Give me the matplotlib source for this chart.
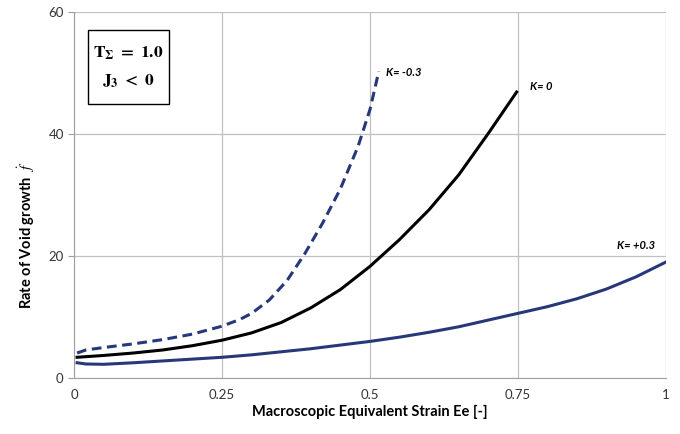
import matplotlib
matplotlib.use('Agg')
import matplotlib.pyplot as plt
from matplotlib.patches import Rectangle

# K = -0.3 (dashed)
x_neg = [0.005, 0.02, 0.05, 0.1, 0.15, 0.2, 0.25, 0.28, 0.3, 0.33, 0.36, 0.39, 0.42, 0.45, 0.48, 0.5, 0.515]
y_neg = [4.1, 4.6, 5.0, 5.6, 6.3, 7.2, 8.5, 9.6, 10.6, 12.8, 16.0, 20.4, 25.4, 31.0, 38.0, 44.0, 50.3]

# K = 0
x_zero = [0.005, 0.05, 0.1, 0.15, 0.2, 0.25, 0.3, 0.35, 0.4, 0.45, 0.5, 0.55, 0.6, 0.65, 0.7, 0.748]
y_zero = [3.4, 3.7, 4.1, 4.6, 5.3, 6.2, 7.4, 9.1, 11.5, 14.5, 18.3, 22.7, 27.6, 33.3, 40.1, 46.9]

# K = +0.3
x_pos = [0.005, 0.02, 0.05, 0.1, 0.15, 0.2, 0.25, 0.3, 0.35, 0.4, 0.45, 0.5, 0.55, 0.6, 0.65,
         0.7, 0.75, 0.8, 0.85, 0.9, 0.95, 1.0]
y_pos = [2.5, 2.3, 2.25, 2.5, 2.8, 3.1, 3.4, 3.8, 4.3, 4.8, 5.4, 6.0, 6.7, 7.5, 8.4,
         9.5, 10.6, 11.7, 13.0, 14.6, 16.6, 19.0]

x_ticks = [0, 0.25, 0.5, 0.75, 1]
x_ticklabels = ['0', '0.25', '0.5', '0.75', '1']
y_ticks = [0, 20, 40, 60]

navy = '#27387a'

plt.rcParams['font.family'] = ['Lato', 'DejaVu Sans']
plt.rcParams['mathtext.fontset'] = 'stix'

fig = plt.figure(figsize=(6.8, 4.34), dpi=100)
ax = fig.add_axes([0.109, 0.129, 0.870, 0.843])

ax.plot(x_neg, y_neg, color=navy, linewidth=2.2, dashes=(3.2, 1.8))
ax.plot(x_zero, y_zero, color='black', linewidth=2.2)
ax.plot(x_pos, y_pos, color=navy, linewidth=2.2)

ax.set_xlim(0, 1)
ax.set_ylim(0, 60)
ax.set_xticks(x_ticks)
ax.set_xticklabels(x_ticklabels)
ax.set_yticks(y_ticks)
ax.grid(True, color='#c0c0c0', linewidth=0.9)
ax.set_axisbelow(True)
for side in ['top', 'right']:
    ax.spines[side].set_visible(False)
for side in ['left', 'bottom']:
    ax.spines[side].set_color('#a0a0a0')
ax.tick_params(axis='y', length=4, color='#a0a0a0', labelsize=9.5, labelcolor='#333333')
ax.tick_params(axis='x', length=0, pad=8, labelsize=9.5, labelcolor='#333333')

ax.set_xlabel('Macroscopic Equivalent Strain Ee [-]', fontsize=10.5, fontweight='bold', labelpad=3)
ax.set_ylabel(r'Rate of Void growth  $\dot{f}$', fontsize=10.5, fontweight='bold', labelpad=8)
ax.yaxis.set_label_coords(-0.063, 0.39)

# curve labels
ax.text(0.527, 49.5, 'K= -0.3', fontsize=8, fontweight='bold', style='italic')
ax.text(0.77, 47.2, 'K= 0', fontsize=8, fontweight='bold', style='italic')
ax.text(0.918, 21.2, 'K= +0.3', fontsize=8, fontweight='bold', style='italic')

# annotation box
ax.add_patch(Rectangle((0.024, 45.0), 0.137, 12.0, facecolor='white', edgecolor='black',
                       linewidth=1.0, zorder=3))
ax.text(0.092, 53.3, r'$\mathbf{T}_{\mathbf{\Sigma}}\ \mathbf{=\ 1.0}$', fontsize=12.5,
        ha='center', va='center', zorder=4)
ax.text(0.092, 48.6, r'$\mathbf{J}_{\mathbf{3}}\mathbf{\ <\ 0}$', fontsize=12.5,
        ha='center', va='center', zorder=4)

fig.savefig('out.png', dpi=100)
